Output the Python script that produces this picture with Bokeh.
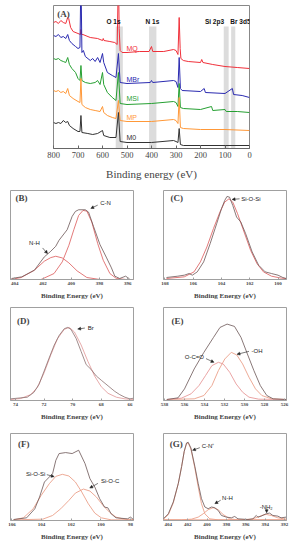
from bokeh.plotting import figure
from bokeh.layouts import column, row
from bokeh.models import Range1d, FixedTicker, Label, Arrow, NormalHead, BoxAnnotation
from bokeh.embed import file_html
from bokeh.resources import INLINE

# ---------------- Panel A: survey spectra ----------------
mq_ev = [800,790,780,770,760,750,742,738,730,720,700,690,688,685,680,650,620,600,597,594,570,550,540,535,532,528,520,500,450,410,400,395,350,310,300,292,287,283,280,270,250,200,195,190,150,100,50,0]
mq_int = [126,127,125,128,126,125,131,130,121,117,115,114,119,114,114,111,110,108,110,108,107,106,104,175,120,98,96,96,97,97,102,97,97,99,98,94,131,100,90,88,87,86,89,86,84,82,81,80]
mbr_ev = [800,790,780,770,760,750,742,735,725,710,700,692,688,684,678,670,650,640,630,620,610,600,595,580,560,545,535,528,500,405,400,395,310,300,292,287,282,275,200,185,180,100,70,65,30,0]
mbr_int = [113,112,114,111,112,110,114,108,105,102,100,101,175,96,98,92,88,90,87,91,86,95,86,76,73,71,95,66,65,66,68,66,68,67,61,91,60,58,57,60,56,55,60,54,53,51]
msi_ev = [800,790,780,770,760,750,742,735,725,710,700,692,688,684,670,650,630,620,610,600,595,580,560,545,535,528,500,400,310,300,292,287,282,270,200,155,150,100,95,50,0]
msi_int = [90,89,90,88,87,86,91,84,80,76,70,68,83,68,66,65,66,68,64,76,64,56,51,48,76,45,44,45,47,46,42,65,41,40,39,42,38,39,37,37,36]
mp_ev = [800,790,780,770,760,750,742,735,720,700,692,688,684,670,650,630,610,600,595,580,560,545,535,528,500,400,310,300,292,287,282,270,200,100,0]
mp_int = [58,57,58,56,57,55,60,53,50,47,46,70,44,41,39,38,37,42,36,33,31,30,48,28,27,27,29,28,25,51,21,20,19,19,18]
m0_ev = [800,790,780,770,760,750,742,735,720,700,692,688,684,660,640,620,600,595,570,545,535,528,500,400,310,300,292,287,282,270,200,100,0]
m0_int = [26,25,26,25,28,26,27,23,20,17,17,33,16,15,14,15,18,13,11,11,36,7,6,6,8,7,6,20,4,3,3,3,3]
series_names = ["MQ", "MBr", "MSi", "MP", "M0"]
series_label_int = [100, 69, 50, 31, 11]
a_ticks = [0, 100, 200, 300, 400, 500, 600, 700, 800]
band_names = ["O 1s", "N 1s", "Si 2p3", "Br 3d5"]
band_lo = [517, 380, 85, 58]
band_hi = [546, 410, 105, 75]
band_label_ev = [555, 396, 143, 37]

# ---------------- Panels B-G: high resolution ----------------
b_ev_env = [404.23,403.5,402.61,401.91,401.45,401.1,400.87,400.29,399.94,399.71,399.48,399.01,398.78,398.43,397.97,397.5,397.16,396.92,396.58,396.16,395.88]
b_int_env = [3,8,28,68,85,100,118,150,190,205,210,210,203,160,105,65,35,10,3,10,2]
b_ev_cn = [404.3,402.14,401.22,400.64,400.17,399.82,399.48,399.17,398.9,398.55,398.13,397.74,397.27,396.81,396.11,395.6]
b_int_cn = [0,0,18,53,103,150,193,208,206,173,108,58,18,3,0,0]
b_ev_nh = [404.3,403.54,402.61,401.91,401.45,401.1,400.64,400.17,399.59,398.9,397.97,395.6]
b_int_nh = [0,6,28,55,66,70,65,50,26,6,0,0]
b_ticks = [396, 398, 400, 402, 404]

c_ev_env = [107.89,107.09,106.63,106.29,106.06,105.71,105.26,104.8,104.34,104.0,103.77,103.61,103.43,103.2,102.93,102.63,102.29,101.83,101.37,100.91,100.46,100.0,99.66,99.43]
c_int_env = [6,10,13,18,13,23,53,108,168,213,238,250,248,223,188,173,138,83,43,23,18,13,6,3]
c_ev_fit = [107.89,106.63,105.94,105.49,105.03,104.57,104.11,103.77,103.47,103.2,102.86,102.4,101.94,101.49,101.03,100.46,99.77,99.43]
c_int_fit = [3,8,23,53,98,153,203,233,243,233,198,143,88,48,23,10,4,3]
c_ticks = [100, 102, 104, 106, 108]

d_ev_env = [74.35,73.88,73.18,72.71,72.35,72.0,71.65,71.29,70.94,70.59,70.35,70.12,69.76,69.41,69.06,68.71,68.35,68.0,67.53,67.06,66.71,66.35,66.0,65.76]
d_int_env = [5,7,10,25,50,90,130,170,200,220,224,218,190,150,110,95,75,62,45,28,18,10,5,7]
d_ev_fit = [74.35,73.65,72.94,72.47,72.0,71.53,71.06,70.59,70.24,69.88,69.41,68.94,68.47,68.0,67.53,66.94,66.35,65.76]
d_int_fit = [3,6,18,40,85,140,190,218,224,210,170,120,75,42,22,10,5,3]
d_ticks = [66, 68, 70, 72, 74]

e_ev_env = [537.77,536.65,536.0,535.03,534.06,533.1,532.45,531.74,531.0,530.35,529.71,529.06,528.42,527.77,527.13,525.84]
e_int_env = [3,8,35,95,145,190,220,230,223,190,140,90,45,15,5,3]
e_ev_oh = [537.77,535.03,534.06,533.26,532.61,531.97,531.32,530.77,530.19,529.55,528.9,528.26,527.29,525.84]
e_int_oh = [3,5,15,45,90,125,145,137,110,70,35,15,5,3]
e_ev_oco = [537.77,536.32,535.35,534.55,533.9,533.26,532.61,532.13,531.48,530.84,530.19,529.55,528.58,525.84]
e_int_oco = [3,7,20,45,75,105,115,110,85,50,25,10,4,3]
e_ticks = [526, 528, 530, 532, 534, 536, 538]

f_ev_env = [105.89,105.01,104.46,104.14,103.81,103.26,103.04,102.82,102.38,101.94,101.5,101.07,100.74,100.41,100.08,99.75,99.53,99.31,98.98,98.21,98.0,97.78]
f_int_env = [3,8,35,70,115,140,180,200,203,200,210,170,125,100,65,40,38,20,8,5,10,2]
f_ev_sios = [105.89,105.23,104.57,104.03,103.48,103.04,102.6,102.16,101.72,101.29,100.85,100.41,99.97,99.31,97.78]
f_int_sios = [2,8,35,75,110,132,138,133,115,85,50,22,8,2,2]
f_ev_sioc = [105.89,103.92,103.26,102.71,102.16,101.72,101.18,100.74,100.3,99.86,99.42,98.98,98.43,97.78]
f_int_sioc = [2,4,15,35,60,82,94,88,70,45,25,10,4,2]
f_ticks = [98, 100, 102, 104, 106]

g_ev_env = [404.51,404.0,403.49,402.97,402.63,402.36,402.12,401.95,401.67,401.26,400.92,400.58,400.23,399.89,399.55,399.21,398.86,398.52,398.01,397.49,397.15,396.81,395.78,395.27,394.92,394.75,394.41,393.9,393.55,393.21,392.7,392.36,391.84]
g_int_env = [5,20,55,110,160,205,230,232,215,160,110,65,40,35,40,38,30,15,10,8,12,5,3,5,15,10,13,20,22,15,13,8,10]
g_ev_cn = [404.51,404.0,403.49,402.97,402.63,402.36,402.12,401.95,401.67,401.26,400.92,400.58,400.23,399.72,398.86,391.84]
g_int_cn = [4,17,52,110,160,205,228,230,212,155,100,50,20,5,2,2]
g_ev_nh = [404.51,402.63,401.6,400.92,400.4,399.89,399.38,398.86,398.35,397.66,396.81,391.84]
g_int_nh = [2,2,4,10,20,32,38,32,18,5,2,2]
g_ev_nh2 = [404.51,396.47,395.44,394.75,394.24,393.9,393.38,392.7,391.84]
g_int_nh2 = [2,2,4,10,16,18,15,8,4]
g_ticks = [392, 394, 396, 398, 400, 402, 404]

SERIF = "Liberation Serif"
SANS = "Liberation Sans"
ENV = "#6b5656"
FIT = "#e06b6b"
FIT2 = "#eba08a"

# ---------------- build panel A ----------------
pa = figure(width=296, height=188, x_range=Range1d(800, 0), y_range=Range1d(0, 143),
            output_backend="svg", toolbar_location=None, y_axis_location=None,
            min_border_left=53, min_border_right=47, min_border_top=5, min_border_bottom=40)
pa.grid.visible = False
pa.outline_line_color = "#888888"
pa.xaxis.ticker = FixedTicker(ticks=a_ticks)
pa.xaxis.axis_label = "Binding energy (eV)"
pa.xaxis.axis_label_text_font = SERIF
pa.xaxis.axis_label_text_font_style = "normal"
pa.xaxis.axis_label_text_font_size = "11px"
pa.xaxis.axis_label_standoff = 7
pa.xaxis.major_label_text_font = SERIF
pa.xaxis.major_label_text_font_size = "8.5px"
pa.xaxis.major_label_standoff = 3
pa.xaxis.major_tick_in = 3
pa.xaxis.major_tick_out = 0
pa.xaxis.axis_line_color = "#666666"
pa.xaxis.major_tick_line_color = "#666666"

for lo, hi, nm, lev in zip(band_lo, band_hi, band_names, band_label_ev):
    pa.add_layout(BoxAnnotation(left=hi, right=lo, bottom=0, top=122, fill_color="#d6d6d6",
                                fill_alpha=0.85, line_alpha=0, level="underlay"))
    pa.add_layout(Label(x=lev, y=127, text=nm, text_font=SANS, text_font_style="bold",
                        text_font_size="6.5px", text_align="center", text_baseline="middle",
                        text_color="#111111"))

colors = ["#f0303a", "#2a2ab0", "#26a032", "#ff9838", "#333333"]
for xs, ys, c in zip([mq_ev, mbr_ev, msi_ev, mp_ev, m0_ev],
                     [mq_int, mbr_int, msi_int, mp_int, m0_int], colors):
    pa.line(xs, ys, line_color=c, line_width=1)
for nm, yv, c in zip(series_names, series_label_int, colors):
    pa.add_layout(Label(x=502, y=yv, text=nm, text_font=SANS, text_font_size="7px",
                        text_align="left", text_baseline="middle", text_color=c))
pa.add_layout(Label(x=785, y=135, text="(A)", text_font=SERIF, text_font_style="bold",
                    text_font_size="9px", text_align="left", text_baseline="middle"))


def panel(xr, ytop, ticks, w, h, bl, br, bt, bb):
    p = figure(width=w, height=h, x_range=Range1d(*xr), y_range=Range1d(0, ytop),
               output_backend="svg", toolbar_location=None, y_axis_location=None,
               min_border_left=bl, min_border_right=br, min_border_top=bt, min_border_bottom=bb)
    p.grid.visible = False
    p.outline_line_color = "#a0a0a0"
    p.xaxis.ticker = FixedTicker(ticks=ticks)
    p.xaxis.axis_label = "Binding Energy (eV)"
    p.xaxis.axis_label_text_font = SERIF
    p.xaxis.axis_label_text_font_style = "bold"
    p.xaxis.axis_label_text_font_size = "7px"
    p.xaxis.axis_label_standoff = 4
    p.xaxis.major_label_text_font = SERIF
    p.xaxis.major_label_text_font_style = "bold"
    p.xaxis.major_label_text_font_size = "5px"
    p.xaxis.major_label_standoff = 2
    p.xaxis.major_tick_in = 2
    p.xaxis.major_tick_out = 0
    p.xaxis.axis_line_color = "#a0a0a0"
    p.xaxis.major_tick_line_color = "#a0a0a0"
    return p


def tag(p, x, y, t):
    p.add_layout(Label(x=x, y=y, text=t, text_font=SERIF, text_font_style="bold",
                       text_font_size="9px", text_align="left", text_baseline="middle"))


def note(p, x, y, t, align="left"):
    p.add_layout(Label(x=x, y=y, text=t, text_font=SANS, text_font_size="6px",
                       text_align=align, text_baseline="middle", text_color="#222222"))


def arrow(p, x0, y0, x1, y1):
    p.add_layout(Arrow(end=NormalHead(size=3, line_color="#222222", fill_color="#222222", line_width=0.5),
                       x_start=x0, y_start=y0, x_end=x1, y_end=y1, line_width=0.6, line_color="#222222"))


# B
pb = panel((404.3, 395.6), 268, b_ticks, 148, 117, 10, 15, 2, 26)
pb.line(b_ev_cn, b_int_cn, line_color=FIT, line_width=0.9)
pb.line(b_ev_nh, b_int_nh, line_color=FIT, line_width=0.9)
pb.line(b_ev_env, b_int_env, line_color=ENV, line_width=0.8)
tag(pb, 403.95, 246, "(B)")
note(pb, 397.95, 231, "C-N")
arrow(pb, 398.13, 224, 398.62, 214)
note(pb, 402.61, 111, "N-H", "center")
arrow(pb, 402.03, 95, 401.68, 78)

# C
pc = panel((108.1, 99.4), 268, c_ticks, 148, 117, 15, 10, 2, 26)
pc.line(c_ev_fit, c_int_fit, line_color=FIT, line_width=0.9)
pc.line(c_ev_env, c_int_env, line_color=ENV, line_width=0.8)
tag(pc, 107.6, 246, "(C)")
note(pc, 102.6, 243, "Si-O-Si")
arrow(pc, 102.72, 243, 103.25, 241)

# D
pd = panel((74.35, 65.75), 285, d_ticks, 148, 120, 10, 15, 2, 25)
pd.line(d_ev_fit, d_int_fit, line_color="#e4a0a0", line_width=0.9)
pd.line(d_ev_env, d_int_env, line_color="#8a7070", line_width=0.8)
tag(pd, 73.9, 245, "(D)")
note(pd, 68.95, 222, "Br")
arrow(pd, 69.15, 222, 69.65, 219)

# E
pe = panel((538.1, 525.8), 280, e_ticks, 148, 120, 15, 10, 2, 25)
pe.line(e_ev_oh, e_int_oh, line_color=FIT2, line_width=0.9)
pe.line(e_ev_oco, e_int_oco, line_color="#e89a9a", line_width=0.9)
pe.line(e_ev_env, e_int_env, line_color=ENV, line_width=0.8)
tag(pe, 537.3, 240, "(E)")
note(pe, 529.3, 150, "-OH")
arrow(pe, 529.55, 148, 530.75, 139)
note(pe, 534.05, 130, "O-C=O", "right")
arrow(pe, 533.85, 126, 533.05, 115)

# F
pf = panel((106.1, 97.8), 260, f_ticks, 148, 120, 10, 15, 8, 25)
pf.line(f_ev_sios, f_int_sios, line_color=FIT2, line_width=0.9)
pf.line(f_ev_sioc, f_int_sioc, line_color=FIT2, line_width=0.9)
pf.line(f_ev_env, f_int_env, line_color=ENV, line_width=0.8)
tag(pf, 105.6, 230, "(F)")
note(pf, 103.75, 138, "Si-O-Si", "right")
arrow(pf, 103.65, 137, 103.15, 131)
note(pf, 100.0, 117, "Si-O-C")
arrow(pf, 100.2, 111, 100.75, 97)

# G
pg = panel((404.5, 391.8), 258, g_ticks, 148, 120, 15, 10, 8, 25)
pg.line(g_ev_cn, g_int_cn, line_color=FIT2, line_width=0.9)
pg.line(g_ev_nh, g_int_nh, line_color=FIT2, line_width=0.9)
pg.line(g_ev_nh2, g_int_nh2, line_color=FIT2, line_width=0.9)
pg.line(g_ev_env, g_int_env, line_color=ENV, line_width=0.8)
tag(pg, 403.85, 228, "(G)")
note(pg, 400.55, 220, "C-N\u207a")
arrow(pg, 400.75, 216, 401.5, 208)
note(pg, 398.45, 66, "N-H")
arrow(pg, 398.6, 60, 399.2, 50)
note(pg, 393.9, 40, "-NH\u2082", "center")
arrow(pg, 393.85, 34, 393.85, 23)

layout = column(pa, row(pb, pc), row(pd, pe), row(pf, pg))
open("out.html", "w").write(file_html(layout, INLINE))
